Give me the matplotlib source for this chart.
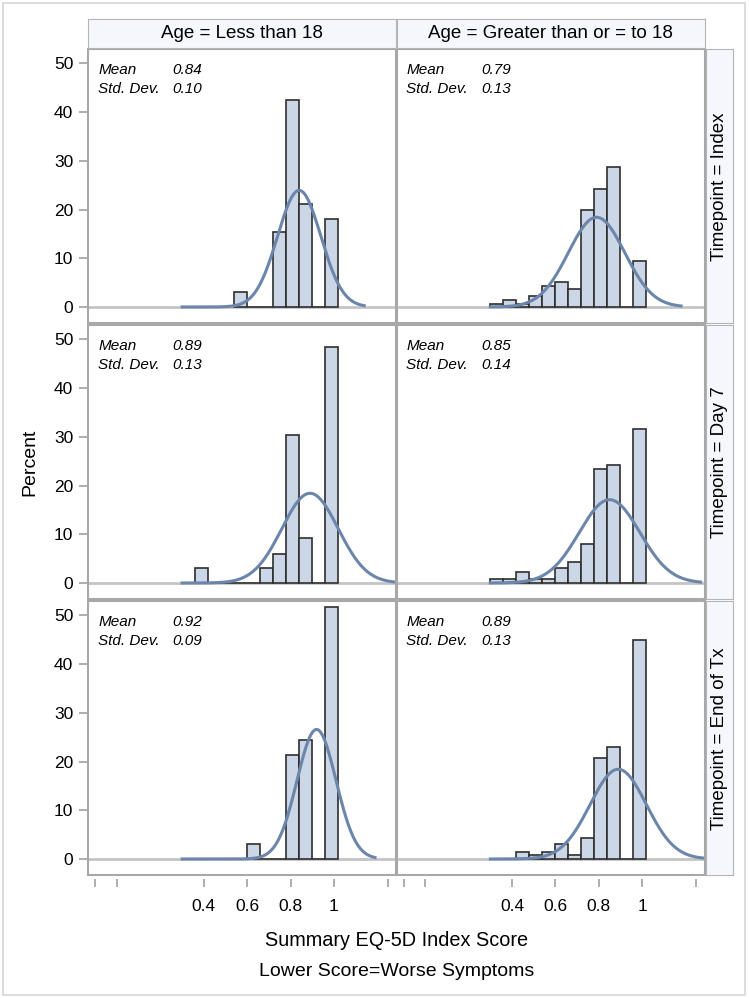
import numpy as np
import matplotlib
matplotlib.use("Agg")
import matplotlib.pyplot as plt
from matplotlib.patches import Rectangle

plt.rcParams['font.family'] = ['Liberation Sans', 'DejaVu Sans']

# ---- data ----
bin_width = 0.06
bin_centers = [0.33, 0.39, 0.45, 0.51, 0.57, 0.63, 0.69, 0.75, 0.81, 0.87, 0.93, 0.99]

col_labels = ["Age = Less than 18", "Age = Greater than or = to 18"]
row_labels = ["Timepoint = Index", "Timepoint = Day 7", "Timepoint = End of Tx"]

# percent per bin, None = bin not drawn
pct_lt18_index = [None, None, None, None, 3.0, 0, 0, 15.3, 42.5, 21.2, 0, 18.1]
pct_ge18_index = [0.7, 1.4, 0.6, 2.2, 4.3, 5.2, 3.6, 19.9, 24.2, 28.7, 0, 9.5]
pct_lt18_day7 = [None, 3.1, 0, 0, 0, 0, 3.1, 6.0, 30.3, 9.2, 0, 48.5]
pct_ge18_day7 = [0.8, 0.8, 2.2, 0.8, 0.8, 3.1, 4.3, 8.1, 23.5, 24.2, 0, 31.7]
pct_lt18_end = [None, None, None, None, None, 3.1, 0, 0, 21.4, 24.4, 0, 51.7]
pct_ge18_end = [None, None, 1.5, 0.8, 1.5, 3.1, 0.8, 4.4, 20.7, 22.9, 0, 45.0]

means = [[0.84, 0.79], [0.89, 0.85], [0.92, 0.89]]
sds = [[0.10, 0.13], [0.13, 0.14], [0.09, 0.13]]
pcts = [[pct_lt18_index, pct_ge18_index],
        [pct_lt18_day7, pct_ge18_day7],
        [pct_lt18_end, pct_ge18_end]]

x_ticks = [-0.1, 0.0, 0.4, 0.6, 0.8, 1.0, 1.25]
x_tick_labels = ["", "", "0.4", "0.6", "0.8", "1", ""]
y_ticks = [0, 10, 20, 30, 40, 50]

# ---- layout (pixels) ----
W, H = 749, 998
col_x = [88.3, 396.5]
col_w = 308
row_y = [49.3, 325.3, 601.3]
row_h = 274
xlim = (-0.133, 1.288)
ylim = (-3.35, 52.9)

bar_face = '#CBD6E6'
bar_edge = '#2E2E2E'
curve_col = '#6C86AB'
frame_col = '#A8A8A8'
strip_face = '#F5F7FC'


def fig_rect(x, y, w, h):
    return [x / W, 1 - (y + h) / H, w / W, h / H]


fig = plt.figure(figsize=(W / 100, H / 100), dpi=100)
fig.patches.append(Rectangle((3 / W, 3 / H), 742 / W, 992 / H, transform=fig.transFigure,
                             fill=False, edgecolor='#D6D6D6', lw=1.2))

for r in range(3):
    for c in range(2):
        ax = fig.add_axes(fig_rect(col_x[c], row_y[r], col_w, row_h))
        ax.set_xlim(*xlim)
        ax.set_ylim(*ylim)
        ax.axhline(0, color='#C4C4C4', lw=2, zorder=1)
        vals = pcts[r][c]
        xs = [bin_centers[i] for i, v in enumerate(vals) if v is not None]
        hs = [v for v in vals if v is not None]
        ax.bar(xs, hs, width=bin_width, color=bar_face, edgecolor=bar_edge, lw=1.2, zorder=2)
        m, s = means[r][c], sds[r][c]
        xx = np.linspace(0.30, min(m + 3 * s, 1.28), 300)
        yy = 100 * bin_width * np.exp(-0.5 * ((xx - m) / s) ** 2) / (s * np.sqrt(2 * np.pi))
        ax.plot(xx, yy, color=curve_col, lw=2.2, zorder=3)

        for sp in ax.spines.values():
            sp.set_color('none')
        ax.add_patch(Rectangle((0, 0), 1, 1, transform=ax.transAxes, fill=False,
                               edgecolor=frame_col, lw=1.5, clip_on=False, zorder=5))

        fx0 = 10 / col_w
        for txt, fx, fy in [("Mean", fx0, 20.7), ("Std. Dev.", fx0, 40),
                            (f"{m:.2f}", 84.5 / col_w, 20.7), (f"{s:.2f}", 84.5 / col_w, 40)]:
            ax.text(fx, 1 - fy / row_h, txt, transform=ax.transAxes, style='italic',
                    fontsize=11, va='center', ha='left')

        ax.set_yticks(y_ticks)
        if c == 0:
            ax.tick_params(axis='y', direction='out', length=6.5, width=1.2, color='#A0A0A0',
                           pad=4.3, labelsize=12.5)
        else:
            ax.tick_params(axis='y', left=False, labelleft=False)
        ax.set_xticks(x_ticks)
        if r == 2:
            ax.spines['bottom'].set_position(('outward', 2.5))
            ax.set_xticklabels(x_tick_labels)
            ax.tick_params(axis='x', direction='out', length=6, width=1.2, color='#A0A0A0',
                           pad=8.5, labelsize=12.5)
        else:
            ax.tick_params(axis='x', bottom=False, labelbottom=False)

# column strips
for c in range(2):
    sa = fig.add_axes(fig_rect(col_x[c], 19, col_w, 28.5))
    sa.set_facecolor(strip_face)
    sa.set_xticks([])
    sa.set_yticks([])
    for sp in sa.spines.values():
        sp.set_color('#B4B4B4')
    sa.text(0.5, 0.5, col_labels[c], ha='center', va='center', fontsize=13.5, transform=sa.transAxes)

# row strips
for r in range(3):
    sa = fig.add_axes(fig_rect(706, row_y[r], 27, row_h))
    sa.set_facecolor(strip_face)
    sa.set_xticks([])
    sa.set_yticks([])
    for sp in sa.spines.values():
        sp.set_color('#B4B4B4')
    sa.text(0.5, 0.5, row_labels[r], ha='center', va='center', rotation=90, fontsize=13.5,
            transform=sa.transAxes)

fig.text(30 / W, 1 - 462 / H, "Percent", rotation=90, ha='center', va='center', fontsize=14)
fig.text(396.5 / W, 1 - 940 / H, "Summary EQ-5D Index Score", ha='center', va='center', fontsize=14.3)
fig.text(396.5 / W, 1 - 972 / H, "Lower Score=Worse Symptoms", ha='center', va='center', fontsize=14)

fig.savefig("out.png", dpi=100)
